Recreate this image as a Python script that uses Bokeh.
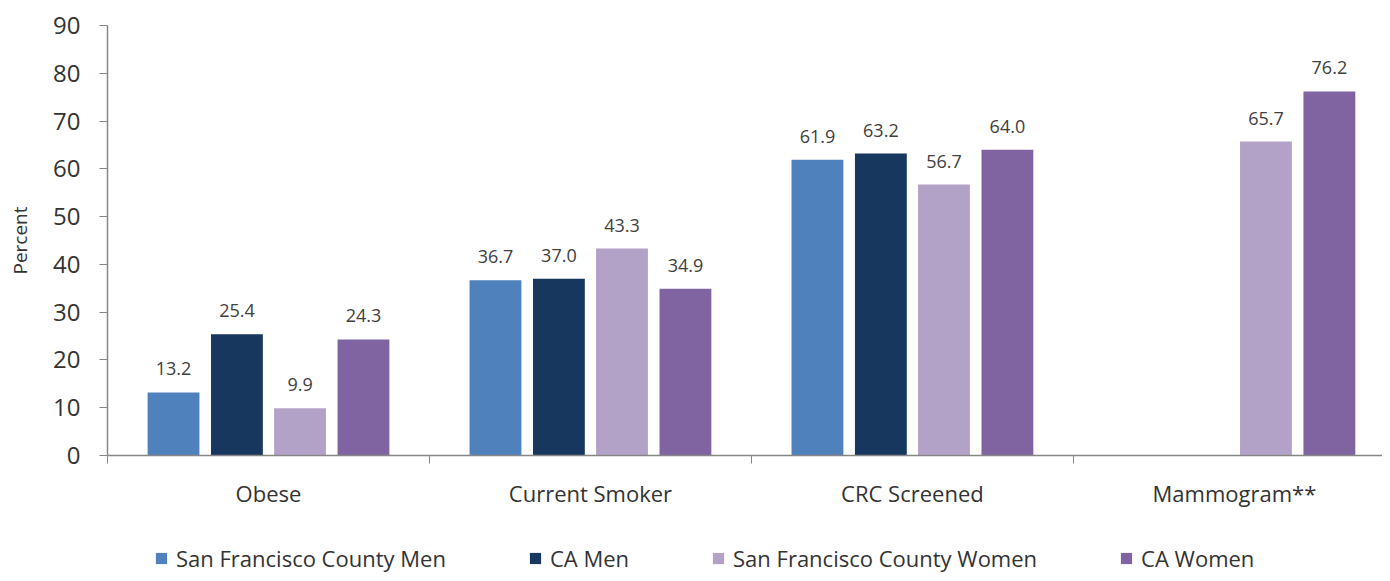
from bokeh.plotting import figure
from bokeh.layouts import column
from bokeh.models import ColumnDataSource, FixedTicker, Legend, LegendItem, Range1d, LabelSet
from bokeh.core.properties import value
from bokeh.embed import file_html
from bokeh.resources import INLINE

categories = ["Obese", "Current Smoker", "CRC Screened", "Mammogram**"]
series_names = ["San Francisco County Men", "CA Men", "San Francisco County Women", "CA Women"]
sf_men = [13.2, 36.7, 61.9, None]
ca_men = [25.4, 37.0, 63.2, None]
sf_women = [9.9, 43.3, 56.7, 65.7]
ca_women = [24.3, 34.9, 64.0, 76.2]
series_values = [sf_men, ca_men, sf_women, ca_women]
colors = ["#4F81BD", "#17375E", "#B3A2C7", "#8064A2"]
y_ticks = [0, 10, 20, 30, 40, 50, 60, 70, 80, 90]

FONT = "Open Sans"
TEXT_COLOR = "#333333"
AXIS_COLOR = "#868686"
W = 1382

p = figure(width=W, height=525, x_range=Range1d(0, 3.96), y_range=Range1d(0, 90),
           output_backend="svg", toolbar_location=None,
           min_border_left=107, min_border_top=25, min_border_right=0, min_border_bottom=70)
p.outline_line_color = None
p.grid.visible = False

offsets = [-0.295, -0.098, 0.098, 0.295]
bar_w = 0.161
for name, vals, col, off in zip(series_names, series_values, colors, offsets):
    xs, ys, labs = [], [], []
    for i, v in enumerate(vals):
        if v is None:
            continue
        xs.append(i + 0.5 + off)
        ys.append(v)
        labs.append(f"{v:.1f}")
    src = ColumnDataSource(dict(x=xs, top=ys, lab=labs))
    p.vbar(x="x", top="top", width=bar_w, bottom=0, source=src,
           fill_color=col, line_color=None)
    p.add_layout(LabelSet(x="x", y="top", text="lab", source=src, text_align="center",
                          text_baseline="alphabetic", y_offset=17,
                          text_font=value(FONT), text_font_size="18px", text_color="#404040"))

# x axis
xa = p.xaxis[0]
xa.ticker = FixedTicker(ticks=[i + 0.5 for i in range(len(categories))],
                        minor_ticks=list(range(len(categories) + 1)))
xa.major_label_overrides = {i + 0.5: c for i, c in enumerate(categories)}
xa.major_tick_line_color = None
xa.major_tick_out = 0
xa.major_tick_in = 0
xa.minor_tick_out = 8
xa.minor_tick_in = 0
xa.minor_tick_line_color = AXIS_COLOR
xa.axis_line_color = AXIS_COLOR
xa.axis_line_width = 1.5
xa.major_label_standoff = 14
xa.major_label_text_font = FONT
xa.major_label_text_font_size = "22px"
xa.major_label_text_color = TEXT_COLOR

# y axis
ya = p.yaxis[0]
ya.ticker = FixedTicker(ticks=y_ticks)
ya.minor_tick_line_color = None
ya.major_tick_out = 8
ya.major_tick_in = 0
ya.major_tick_line_color = AXIS_COLOR
ya.axis_line_color = AXIS_COLOR
ya.axis_line_width = 1.5
ya.major_label_standoff = 19
ya.major_label_text_font = FONT
ya.major_label_text_font_size = "24px"
ya.major_label_text_color = TEXT_COLOR
ya.axis_label = "Percent"
ya.axis_label_text_font = FONT
ya.axis_label_text_font_size = "19px"
ya.axis_label_text_font_style = "normal"
ya.axis_label_text_color = TEXT_COLOR
ya.axis_label_standoff = 17

# legend strip below the chart (frames are aligned with the chart above)
pl = figure(width=W, height=48, x_range=Range1d(0, 1), y_range=Range1d(0, 1),
            x_axis_type=None, y_axis_type=None,
            output_backend="svg", toolbar_location=None,
            min_border_left=0, min_border_top=0, min_border_right=0, min_border_bottom=0)
pl.outline_line_color = None
pl.grid.visible = False
items = []
for name, col in zip(series_names, colors):
    # zero-height placeholder renderer, used only to draw the legend swatch
    r = pl.vbar(x=[0.5], top=[0], bottom=0, width=0.1, fill_color=col, line_color=None)
    items.append(LegendItem(label=name, renderers=[r]))
legend = Legend(items=items, orientation="horizontal", location=(47, 0),
                padding=0, margin=0, spacing=82, label_standoff=8,
                glyph_width=14, glyph_height=14,
                label_text_font=FONT, label_text_font_size="22px",
                label_text_color=TEXT_COLOR, border_line_color=None,
                background_fill_alpha=0)
pl.add_layout(legend, "center")

layout = column(p, pl, spacing=0)
open("out.html", "w").write(file_html(layout, INLINE))
